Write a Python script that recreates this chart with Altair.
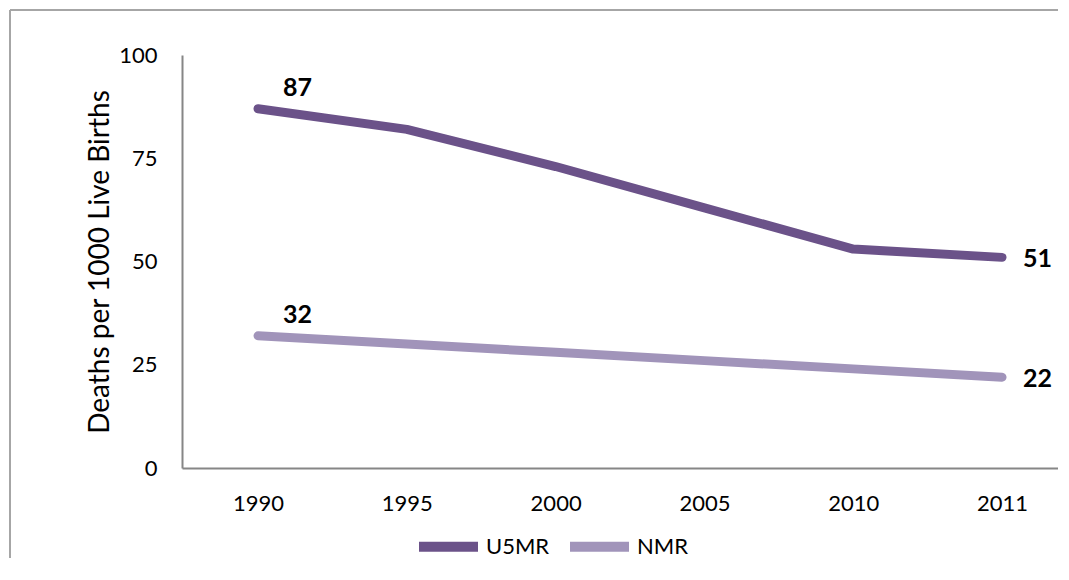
import altair as alt
import pandas as pd

years = ["1990", "1995", "2000", "2005", "2010", "2011"]
u5mr = [87, 82, 73, 63, 53, 51]
nmr = [32, 30, 28, 26, 24, 22]
series_names = ["U5MR", "NMR"]
colors = ["#6B5289", "#A194BA"]
y_title = "Deaths per 1000 Live Births"
y_ticks = [0, 25, 50, 75, 100]

rows = []
for yr, a, b in zip(years, u5mr, nmr):
    rows.append({"year": yr, "series": "U5MR", "value": a})
    rows.append({"year": yr, "series": "NMR", "value": b})
df = pd.DataFrame(rows)

W = 876
H = 413
FONT = "Lato"

x_enc = alt.X(
    "year:N",
    sort=years,
    scale=alt.Scale(type="point", padding=0.4435, align=0.576),
    axis=alt.Axis(
        title=None, labelAngle=0, ticks=False, tickSize=0, labelPadding=25,
        domainColor="#868686", domainWidth=2, labelFontSize=22, labelFont=FONT,
        labelColor="black", grid=False,
    ),
)
y_enc = alt.Y(
    "value:Q",
    scale=alt.Scale(domain=[0, 100]),
    axis=alt.Axis(
        values=y_ticks, title=y_title, ticks=False, tickSize=0, labelPadding=25,
        domainColor="#868686", domainWidth=2, labelFontSize=22, labelFont=FONT,
        labelColor="black", grid=False,
        titleX=-82, titleY=H / 2, titleAngle=270, titleAlign="center",
        titleBaseline="middle", titleFontSize=28, titleFontWeight="normal",
        titleFont=FONT, titleColor="black",
    ),
)

base = alt.Chart(df)

lines = base.mark_line(strokeWidth=9, strokeCap="round", strokeJoin="round").encode(
    x=x_enc,
    y=y_enc,
    color=alt.Color(
        "series:N",
        scale=alt.Scale(domain=series_names, range=colors),
        legend=alt.Legend(
            title=None, orient="none", direction="horizontal",
            legendX=232, legendY=457,
            symbolType="stroke", symbolSize=3481, symbolStrokeWidth=10,
            labelFontSize=22, labelFont=FONT, labelColor="black",
            labelOffset=3, columnPadding=0,
        ),
    ),
)

left_labels = base.transform_filter(alt.datum.year == years[0]).mark_text(
    align="left", baseline="middle", dx=25, dy=-21, fontSize=25,
    fontWeight="bold", font=FONT, color="black",
).encode(x=x_enc, y=y_enc, text="value:Q")

right_labels = base.transform_filter(alt.datum.year == years[-1]).mark_text(
    align="left", baseline="middle", dx=21, dy=2, fontSize=25,
    fontWeight="bold", font=FONT, color="black",
).encode(x=x_enc, y=y_enc, text="value:Q")

frame_src = pd.DataFrame({"f": [0]})
frame_left = alt.Chart(frame_src).mark_rule(stroke="#A6A6A6", strokeWidth=2).encode(
    x=alt.value(-172), y=alt.value(-45), y2=alt.value(H + 90),
)
frame_top = alt.Chart(frame_src).mark_rule(stroke="#A6A6A6", strokeWidth=2).encode(
    x=alt.value(-172), x2=alt.value(W), y=alt.value(-45),
)

chart = alt.layer(frame_left, frame_top, lines, left_labels, right_labels).properties(
    width=W, height=H,
    padding={"left": 174, "top": 47, "right": 0, "bottom": 90},
    autosize=alt.AutoSizeParams(type="none"),
    background="white",
).configure_view(stroke=None)

chart.save("out.html", embed_options={"renderer": "svg", "actions": False})
